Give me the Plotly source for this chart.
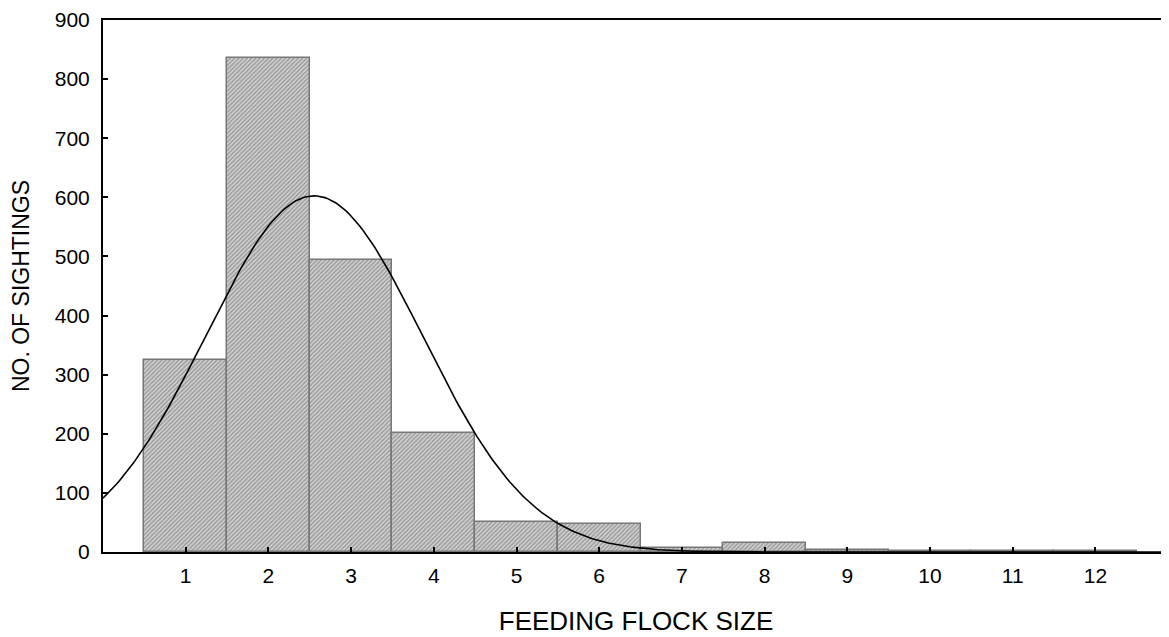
import numpy as np
import plotly.graph_objects as go

flock_size = [1, 2, 3, 4, 5, 6, 7, 8, 9, 10, 11, 12]
sightings = [325, 835, 494, 201, 50, 47, 7, 16, 4, 1, 1, 1]
x_ticks = [1, 2, 3, 4, 5, 6, 7, 8, 9, 10, 11, 12]
y_ticks = [0, 100, 200, 300, 400, 500, 600, 700, 800, 900]

# Fitted normal curve derived from the histogram data (mean, sd, N)
xs = np.array(flock_size, dtype=float)
ns = np.array(sightings, dtype=float)
N = ns.sum()
mean = (xs * ns).sum() / N
sd = np.sqrt(((xs - mean) ** 2 * ns).sum() / (N - 1))
cx = np.linspace(0, 12.9, 400)
cy = N * 1.0 / (sd * np.sqrt(2 * np.pi)) * np.exp(-(cx - mean) ** 2 / (2 * sd ** 2))

fig = go.Figure()
fig.add_trace(go.Bar(
    x=flock_size, y=sightings, width=1.0,
    marker=dict(
        color="#bdbdbd",
        line=dict(color="#777777", width=1.5),
        pattern=dict(shape="/", fgcolor="#5a5a5a", bgcolor="#d2d2d2", size=3, solidity=0.45),
    ),
    showlegend=False,
))
fig.add_trace(go.Scatter(
    x=cx, y=cy, mode="lines", line=dict(color="black", width=1.6),
    showlegend=False, hoverinfo="skip",
))

fig.update_layout(
    width=1161, height=629,
    margin=dict(l=95, r=0, t=12, b=85),
    paper_bgcolor="white", plot_bgcolor="white",
    font=dict(family="Liberation Sans, Arial, sans-serif", color="black", size=21),
    bargap=0,
)
fig.update_xaxes(
    range=[0, 12.89], tickvals=x_ticks, ticktext=[str(v) for v in x_ticks],
    ticks="inside", ticklen=5, tickwidth=1.5, tickcolor="black",
    showline=True, linecolor="black", linewidth=2, mirror=True,
    showgrid=False, zeroline=False,
    ticklabelstandoff=4,
    title=dict(text="FEEDING FLOCK SIZE", font=dict(size=26), standoff=26),
    tickfont=dict(size=21),
)
fig.update_yaxes(
    range=[0, 900], tickvals=y_ticks,
    ticks="inside", ticklen=5, tickwidth=1.5, tickcolor="black",
    showline=True, linecolor="black", linewidth=2, mirror=False,
    showgrid=False, zeroline=False,
    ticklabelstandoff=7,
    title=dict(text="NO. OF SIGHTINGS", font=dict(size=23), standoff=23),
    tickfont=dict(size=21),
)

fig.write_html("out.html")
